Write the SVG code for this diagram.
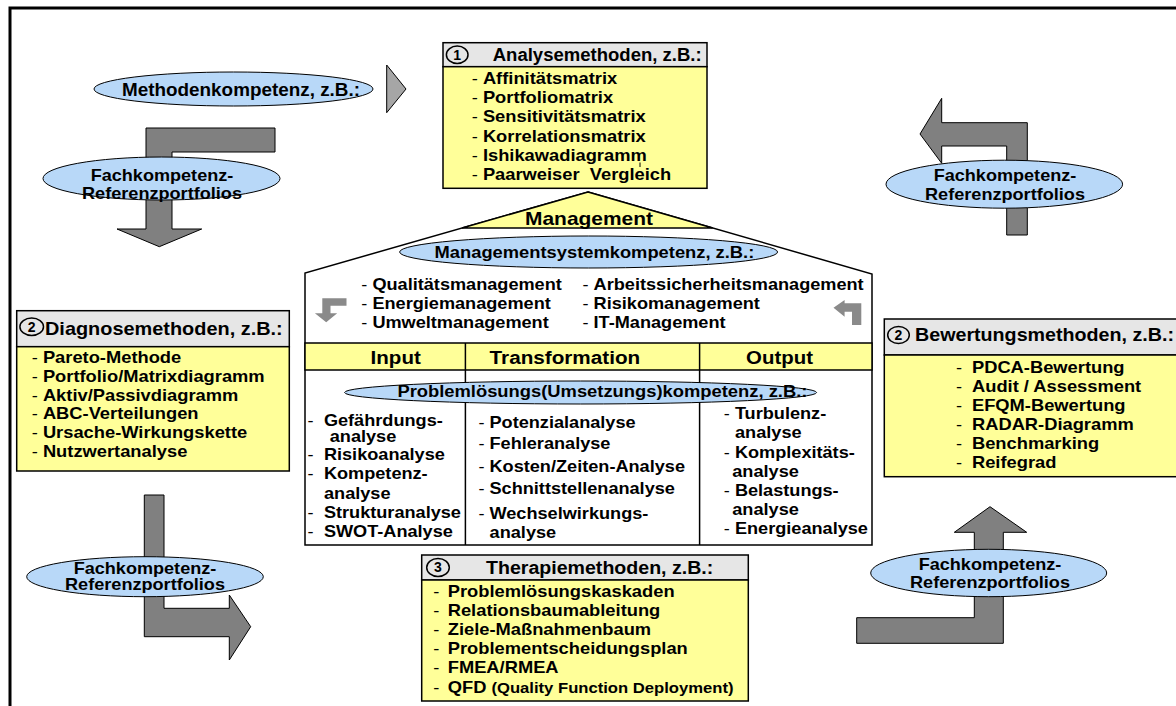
<svg xmlns="http://www.w3.org/2000/svg" width="1176" height="706" viewBox="0 0 1176 706">
<defs>
<style>
text{font-family:"Liberation Sans",Arial,Helvetica,sans-serif;font-weight:bold;fill:#000}
.d{font-weight:normal}
.f16{font-size:16px}
.f165{font-size:16.5px}
.hdr{fill:#e6e6e6;stroke:#000;stroke-width:1.5}
.yel{fill:#ffff99;stroke:#000;stroke-width:1.5}
.ell{fill:#b8d8f8;stroke:#000;stroke-width:1}
.arr{fill:#808080;stroke:#000;stroke-width:1}
.arr2{fill:#a6a6a6;stroke:#000;stroke-width:1}
.sarr{fill:#8a8a8a;stroke:none}
.num{fill:none;stroke:#000;stroke-width:1.5}
.dig{font-size:14px;text-anchor:middle}
.ln{stroke:#000;stroke-width:1.5;fill:none}
</style>
</defs>
<rect width="1176" height="706" fill="#fff"/>
<path d="M10 706V8H1176" fill="none" stroke="#000" stroke-width="3"/>

<g id="management-house">
<polygon points="588,192 872,274 872,545 305,545 305,273" fill="#fff" stroke="#000" stroke-width="1.5"/>
<polygon points="588,192 712.7,228 462,228" class="yel"/>
<text x="525" y="225" style="font-size:18.5px" textLength="128" lengthAdjust="spacingAndGlyphs">Management</text>
<g transform="translate(361.3 0) scale(1.10 1)" class="f165">
<text y="290.5"><tspan class="d">- </tspan>Qualitätsmanagement</text>
<text y="309.5"><tspan class="d">- </tspan>Energiemanagement</text>
<text y="328.5"><tspan class="d">- </tspan>Umweltmanagement</text>
</g>
<g transform="translate(582.5 0) scale(1.10 1)" class="f165">
<text y="290.5"><tspan class="d">- </tspan>Arbeitssicherheitsmanagement</text>
<text y="309.5"><tspan class="d">- </tspan>Risikomanagement</text>
<text y="328.5"><tspan class="d">- </tspan>IT-Management</text>
</g>
<rect x="305" y="343" width="567" height="27" class="yel"/>
<line x1="465.4" y1="343" x2="465.4" y2="545" class="ln"/>
<line x1="699.6" y1="343" x2="699.6" y2="545" class="ln"/>
<text x="370.6" y="364.3" style="font-size:18px" textLength="50.2" lengthAdjust="spacingAndGlyphs">Input</text>
<text x="489.6" y="364.3" style="font-size:18px" textLength="150.6" lengthAdjust="spacingAndGlyphs">Transformation</text>
<text x="746.1" y="364.3" style="font-size:18px" textLength="66.9" lengthAdjust="spacingAndGlyphs">Output</text>
<g transform="translate(307.4 0) scale(1.10 1)" class="f165">
<text y="425.5"><tspan class="d">-</tspan><tspan x="15">Gefährdungs-</tspan></text>
<text x="20.3" y="442.5">analyse</text>
<text y="460"><tspan class="d">-</tspan><tspan x="15">Risikoanalyse</tspan></text>
<text y="479"><tspan class="d">-</tspan><tspan x="15">Kompetenz-</tspan></text>
<text x="15.1" y="499">analyse</text>
<text y="518.3"><tspan class="d">-</tspan><tspan x="15">Strukturanalyse</tspan></text>
<text y="536.7"><tspan class="d">-</tspan><tspan x="15">SWOT-Analyse</tspan></text>
</g>
<g transform="translate(478.4 0) scale(1.10 1)" class="f165">
<text y="428"><tspan class="d">- </tspan>Potenzialanalyse</text>
<text y="449.5"><tspan class="d">- </tspan>Fehleranalyse</text>
<text y="472"><tspan class="d">- </tspan>Kosten/Zeiten-Analyse</text>
<text y="494.5"><tspan class="d">- </tspan>Schnittstellenanalyse</text>
<text y="519"><tspan class="d">- </tspan>Wechselwirkungs-</text>
<text x="10.2" y="538.5">analyse</text>
</g>
<g transform="translate(723.8 0) scale(1.10 1)" class="f165">
<text y="419"><tspan class="d">- </tspan>Turbulenz-</text>
<text x="10.2" y="438.3">analyse</text>
<text y="457.7"><tspan class="d">- </tspan>Komplexitäts-</text>
<text x="7.7" y="476.7">analyse</text>
<text y="496"><tspan class="d">- </tspan>Belastungs-</text>
<text x="7.7" y="515">analyse</text>
<text y="534"><tspan class="d">- </tspan>Energieanalyse</text>
</g>
</g>

<g id="analysemethoden">
<rect x="443" y="42.7" width="264" height="24" class="hdr"/>
<rect x="443" y="66.7" width="264" height="121.6" class="yel"/>
<ellipse cx="457.2" cy="54.7" rx="10.8" ry="8.7" class="num"/>
<text x="457.2" y="59.6" class="dig">1</text>
<text x="492.7" y="61" style="font-size:17.5px" textLength="209" lengthAdjust="spacingAndGlyphs">Analysemethoden, z.B.:</text>
<g transform="translate(471.7 0) scale(1.11 1)" class="f165">
<text y="84"><tspan class="d">- </tspan>Affinitätsmatrix</text>
<text y="103.3"><tspan class="d">- </tspan>Portfoliomatrix</text>
<text y="122.5"><tspan class="d">- </tspan>Sensitivitätsmatrix</text>
<text y="141.7"><tspan class="d">- </tspan>Korrelationsmatrix</text>
<text y="161"><tspan class="d">- </tspan>Ishikawadiagramm</text>
<text y="180"><tspan class="d">- </tspan>Paarweiser&#160; Vergleich</text>
</g>
<line x1="640" y1="162.5" x2="640" y2="167" stroke="#000" stroke-width="1"/>
</g>

<g id="diagnosemethoden">
<rect x="16.7" y="310.7" width="272.6" height="36" class="hdr"/>
<rect x="16.7" y="346.7" width="272.6" height="124.3" class="yel"/>
<ellipse cx="31.7" cy="326.7" rx="11.8" ry="8.7" class="num"/>
<text x="31.7" y="331.6" class="dig">2</text>
<text x="45" y="335" style="font-size:19px" textLength="237.7" lengthAdjust="spacingAndGlyphs">Diagnosemethoden, z.B.:</text>
<g transform="translate(31.7 0) scale(1.11 1)" class="f165">
<text y="362.7"><tspan class="d">- </tspan>Pareto-Methode</text>
<text y="381.7"><tspan class="d">- </tspan>Portfolio/Matrixdiagramm</text>
<text y="400.7"><tspan class="d">- </tspan>Aktiv/Passivdiagramm</text>
<text y="419.3"><tspan class="d">- </tspan>ABC-Verteilungen</text>
<text y="438.3"><tspan class="d">- </tspan>Ursache-Wirkungskette</text>
<text y="457.3"><tspan class="d">- </tspan>Nutzwertanalyse</text>
</g>
</g>

<g id="bewertungsmethoden">
<rect x="884.3" y="319" width="320" height="36" class="hdr"/>
<rect x="884.3" y="355" width="320" height="121.7" class="yel"/>
<ellipse cx="898.5" cy="335" rx="10.8" ry="8.5" class="num"/>
<text x="898.5" y="339.9" class="dig">2</text>
<text x="915" y="340.7" style="font-size:19px" textLength="259" lengthAdjust="spacingAndGlyphs">Bewertungsmethoden, z.B.:</text>
<g transform="translate(956 0) scale(1.11 1)" class="f165">
<text y="372.7"><tspan class="d">-</tspan><tspan x="14.4">PDCA-Bewertung</tspan></text>
<text y="391.7"><tspan class="d">-</tspan><tspan x="14.4">Audit / Assessment</tspan></text>
<text y="411"><tspan class="d">-</tspan><tspan x="14.4">EFQM-Bewertung</tspan></text>
<text y="430"><tspan class="d">-</tspan><tspan x="14.4">RADAR-Diagramm</tspan></text>
<text y="449"><tspan class="d">-</tspan><tspan x="14.4">Benchmarking</tspan></text>
<text y="467.7"><tspan class="d">-</tspan><tspan x="14.4">Reifegrad</tspan></text>
</g>
</g>

<g id="therapiemethoden">
<rect x="421.7" y="555" width="326.6" height="25" class="hdr"/>
<rect x="421.7" y="580" width="326.6" height="121" class="yel"/>
<ellipse cx="438" cy="567.5" rx="11.3" ry="9" class="num"/>
<text x="438" y="572.4" class="dig">3</text>
<text x="486" y="574.3" style="font-size:17.5px" textLength="227.3" lengthAdjust="spacingAndGlyphs">Therapiemethoden, z.B.:</text>
<g transform="translate(433.3 0) scale(1.11 1)" class="f165">
<text y="596.7"><tspan class="d">-</tspan><tspan x="13">Problemlösungskaskaden</tspan></text>
<text y="616"><tspan class="d">-</tspan><tspan x="13">Relationsbaumableitung</tspan></text>
<text y="635"><tspan class="d">-</tspan><tspan x="13">Ziele-Maßnahmenbaum</tspan></text>
<text y="654.3"><tspan class="d">-</tspan><tspan x="13">Problementscheidungsplan</tspan></text>
<text y="673.3"><tspan class="d">-</tspan><tspan x="13">FMEA/RMEA</tspan></text>
<text y="692.7"><tspan class="d">-</tspan><tspan x="13">QFD </tspan><tspan style="font-size:15px">(Quality Function Deployment)</tspan></text>
</g>
</g>

<g id="connectors">
<polygon class="arr" points="146,128 275,128 275,152 172,152 172,229 201.7,229 159.3,246.7 117,229 146,229"/>
<polygon class="arr2" points="386.7,65 406,89 386.7,112.7"/>
<polygon class="arr" points="920,134 941.7,98.3 941.7,122.7 1027.3,122.7 1027.3,235 1006.7,235 1006.7,146 941.7,146 941.7,163.3"/>
<polygon class="arr" points="144.3,495 164,495 164,608.3 229.3,608.3 229.3,595 250.7,626.7 229.3,660 229.3,636.7 144.3,636.7"/>
<polygon class="arr" points="990,506.7 1026.7,532.3 1003.3,532.3 1003.3,643.3 856.7,643.3 856.7,617.7 974.3,617.7 974.3,532.3 954.3,532.3"/>
<polygon class="sarr" points="322.3,298.3 346.5,298.3 346.5,305.7 330.5,305.7 330.5,313.3 337.2,313.3 326.2,322.3 314.9,313.3 322.3,313.3"/>
<polygon class="sarr" points="833.5,307.7 844.6,300 844.6,303.3 861.3,303.3 861.3,325 852,325 852,311.7 844.6,311.7 844.6,316.7"/>
</g>

<g id="methodenkompetenz">
<ellipse cx="233.5" cy="89" rx="139.5" ry="17" class="ell"/>
<text x="122" y="96.3" style="font-size:17.5px" textLength="238" lengthAdjust="spacingAndGlyphs">Methodenkompetenz, z.B.:</text>
</g>
<g id="fachkompetenz-top-left">
<ellipse cx="161.5" cy="178.5" rx="118.5" ry="21.5" class="ell"/>
<text x="90.7" y="181" class="f165" textLength="142.6" lengthAdjust="spacingAndGlyphs">Fachkompetenz-</text>
<text x="82" y="199.3" class="f165" textLength="160" lengthAdjust="spacingAndGlyphs">Referenzportfolios</text>
</g>
<g id="fachkompetenz-top-right">
<ellipse cx="1004.3" cy="184.2" rx="118.3" ry="24" class="ell"/>
<text x="933.7" y="180.7" class="f165" textLength="142.6" lengthAdjust="spacingAndGlyphs">Fachkompetenz-</text>
<text x="925" y="200" class="f165" textLength="160" lengthAdjust="spacingAndGlyphs">Referenzportfolios</text>
</g>
<g id="fachkompetenz-bottom-left">
<ellipse cx="145" cy="576.7" rx="118.3" ry="20" class="ell"/>
<text x="73.7" y="573.5" class="f165" textLength="142.6" lengthAdjust="spacingAndGlyphs">Fachkompetenz-</text>
<text x="65" y="590" class="f165" textLength="160" lengthAdjust="spacingAndGlyphs">Referenzportfolios</text>
</g>
<g id="fachkompetenz-bottom-right">
<ellipse cx="988.7" cy="573" rx="118" ry="23.7" class="ell"/>
<text x="918.7" y="570" class="f165" textLength="142.6" lengthAdjust="spacingAndGlyphs">Fachkompetenz-</text>
<text x="910" y="588.3" class="f165" textLength="160" lengthAdjust="spacingAndGlyphs">Referenzportfolios</text>
</g>
<g id="managementsystemkompetenz">
<ellipse cx="588.6" cy="252" rx="189" ry="16" class="ell"/>
<text x="434.6" y="257.7" style="font-size:16.5px" textLength="319.7" lengthAdjust="spacingAndGlyphs">Managementsystemkompetenz, z.B.:</text>
</g>
<g id="problemloesungskompetenz">
<ellipse cx="580.6" cy="392.5" rx="236" ry="11.5" class="ell"/>
<text x="397.4" y="397" class="f16" textLength="410" lengthAdjust="spacingAndGlyphs">Problemlösungs(Umsetzungs)kompetenz, z.B.:</text>
</g>
</svg>
